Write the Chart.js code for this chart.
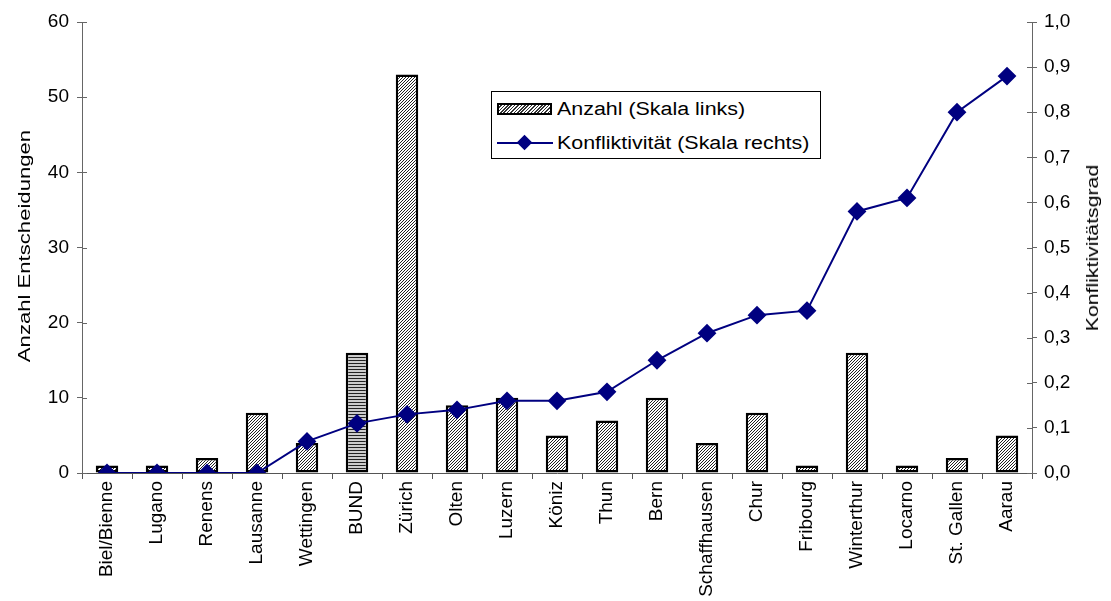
<!DOCTYPE html>
<html lang="de">
<head>
<meta charset="UTF-8">
<title>Anzahl Entscheidungen und Konfliktivität</title>
<script src="https://cdn.jsdelivr.net/npm/chart.js"></script>
<style>
    body { margin: 0; background: #fff; font-family: "Liberation Sans", Arial, sans-serif; }
    .wrap { position: relative; width: 1111px; height: 601px; }
    canvas { display: block; }
    .legend {
        position: absolute; left: 491px; top: 91px; width: 328px; height: 66px;
        border: 1px solid #000; background: #fff; font-size: 18px; color: #000;
    }
    .legend .row { position: absolute; left: 0; height: 22px; display: flex; align-items: center; }
    .legend .txt { display: inline-block; transform: scaleX(1.19); transform-origin: left center; white-space: nowrap; }
    .swatch {
        width: 51px; height: 8px; margin-left: 5px; margin-right: 5px; border: 2px solid #000;
        background: repeating-linear-gradient(135deg, #fff 0 1.2px, #333 1.2px 2.4px);
    }
    .lineswatch { position: relative; width: 56px; height: 22px; margin-left: 5px; margin-right: 4px; }
    .lineswatch::before { content: ""; position: absolute; left: 0; right: 0; top: 10px; height: 2px; background: #000080; }
    .lineswatch::after {
        content: ""; position: absolute; left: 22px; top: 5px; width: 11px; height: 11px;
        background: #000080; transform: rotate(45deg);
    }
    .ytitle { position: absolute; font-size: 17px; color: #000; white-space: nowrap; text-align: center; }
</style>
</head>
<body>
<div class="wrap">
    <canvas id="chart" width="1111" height="601"></canvas>
    <div class="legend">
        <div class="row" style="top:6px"><div class="swatch"></div><span class="txt">Anzahl (Skala links)</span></div>
        <div class="row" style="top:40px"><div class="lineswatch"></div><span class="txt">Konfliktivität (Skala rechts)</span></div>
    </div>
    <div class="ytitle" style="left:-75px; top:236px; width:200px; transform: rotate(-90deg) scaleX(1.3);">Anzahl Entscheidungen</div>
    <div class="ytitle" style="left:1018px; top:238px; width:150px; transform: rotate(-90deg) scaleX(1.25);">Konfliktivitätsgrad</div>
</div>
<script>
    const categories = ['Biel/Bienne', 'Lugano', 'Renens', 'Lausanne', 'Wettingen', 'BUND', 'Zürich', 'Olten', 'Luzern',
        'Köniz', 'Thun', 'Bern', 'Schaffhausen', 'Chur', 'Fribourg', 'Winterthur', 'Locarno', 'St. Gallen', 'Aarau'];
    const anzahl = [1, 1, 2, 8, 4, 16, 53, 9, 10, 5, 7, 10, 4, 8, 1, 16, 1, 2, 5];
    const konfliktivitaet = [0, 0, 0, 0, 0.07, 0.11, 0.13, 0.14, 0.16, 0.16, 0.18, 0.25, 0.31, 0.35, 0.36, 0.58, 0.61, 0.80, 0.88];
    const leftTicks = [0, 10, 20, 30, 40, 50, 60];
    const rightTicks = [0, 0.1, 0.2, 0.3, 0.4, 0.5, 0.6, 0.7, 0.8, 0.9, 1.0];

    // hatch fills
    function diagPattern() {
        const c = document.createElement('canvas');
        c.width = 3; c.height = 3;
        const g = c.getContext('2d');
        g.fillStyle = '#fff'; g.fillRect(0, 0, 3, 3);
        g.fillStyle = '#222';
        g.fillRect(2, 0, 1, 1); g.fillRect(1, 1, 1, 1); g.fillRect(0, 2, 1, 1);
        return g.createPattern(c, 'repeat');
    }
    function horizPattern() {
        const c = document.createElement('canvas');
        c.width = 3; c.height = 3;
        const g = c.getContext('2d');
        g.fillStyle = '#ccc'; g.fillRect(0, 0, 3, 3);
        g.fillStyle = '#222'; g.fillRect(0, 0, 3, 1);
        return g.createPattern(c, 'repeat');
    }
    const diag = diagPattern(), horiz = horizPattern();
    const barFills = categories.map(c => c === 'BUND' ? horiz : diag);

    const fam = '"Liberation Sans", Arial, sans-serif';

    // tick marks on the y axes cross the axis line
    const innerTicks = {
        id: 'innerTicks',
        afterDraw(chart) {
            const ctx = chart.ctx;
            ctx.save();
            ctx.strokeStyle = '#666';
            ctx.lineWidth = 1;
            ['y', 'y1'].forEach(id => {
                const s = chart.scales[id];
                const x = id === 'y' ? s.right : s.left;
                const dir = id === 'y' ? 1 : -1;
                s.ticks.forEach(t => {
                    const py = Math.round(s.getPixelForValue(t.value)) + 0.5;
                    ctx.beginPath();
                    ctx.moveTo(x, py);
                    ctx.lineTo(x + dir * 5, py);
                    ctx.stroke();
                });
            });
            ctx.restore();
        }
    };

    new Chart(document.getElementById('chart'), {
        type: 'bar',
        data: {
            labels: categories,
            datasets: [{
                type: 'line',
                label: 'Konfliktivität (Skala rechts)',
                data: konfliktivitaet,
                yAxisID: 'y1',
                borderColor: '#000080',
                backgroundColor: '#000080',
                borderWidth: 2,
                pointStyle: 'rectRot',
                pointRadius: 8,
                pointHoverRadius: 8,
                tension: 0,
                order: 0
            }, {
                label: 'Anzahl (Skala links)',
                data: anzahl,
                yAxisID: 'y',
                backgroundColor: barFills,
                borderColor: '#000',
                borderWidth: 2.5,
                borderSkipped: false,
                categoryPercentage: 1,
                barPercentage: 0.45,
                order: 1
            }]
        },
        options: {
            responsive: false,
            animation: false,
            layout: { padding: { top: 22, left: 0, right: 0, bottom: 0 } },
            plugins: { legend: { display: false }, tooltip: { enabled: false } },
            scales: {
                x: {
                    offset: true,
                    grid: { display: true, drawOnChartArea: false, offset: true, color: '#555', tickLength: 6 },
                    border: { color: '#555', width: 1 },
                    ticks: { color: '#000', font: { family: fam, size: 19 }, minRotation: 90, maxRotation: 90, padding: 2 },
                    afterFit: s => { s.height = 128; }
                },
                y: {
                    position: 'left',
                    min: 0, max: 60,
                    afterBuildTicks: s => { s.ticks = leftTicks.map(v => ({ value: v })); },
                    grid: { drawOnChartArea: false, color: '#666', tickLength: 5 },
                    border: { color: '#666', width: 1 },
                    ticks: { color: '#000', font: { family: fam, size: 19 }, padding: 8 },
                    afterFit: s => { s.width = 82; }
                },
                y1: {
                    position: 'right',
                    min: 0, max: 1,
                    afterBuildTicks: s => { s.ticks = rightTicks.map(v => ({ value: v })); },
                    grid: { drawOnChartArea: false, color: '#666', tickLength: 5 },
                    border: { color: '#666', width: 1 },
                    ticks: { color: '#000', font: { family: fam, size: 19 }, padding: 7, callback: v => v.toFixed(1).replace('.', ',') },
                    afterFit: s => { s.width = 79; }
                }
            }
        },
        plugins: [innerTicks]
    });
</script>
</body>
</html>
